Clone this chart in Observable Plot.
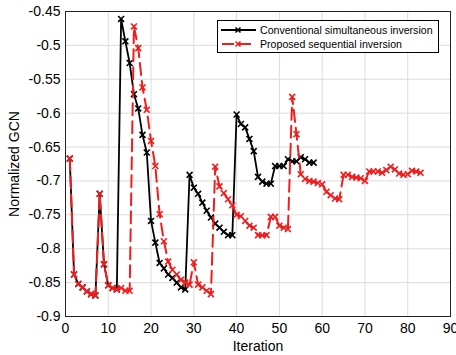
<!DOCTYPE html>
<html>
<head>
<meta charset="utf-8">
<script src="https://cdn.jsdelivr.net/npm/d3@7"></script>
<script src="https://cdn.jsdelivr.net/npm/@observablehq/plot@0.6"></script>
<style>
  body { margin: 0; background: #fff; }
  #wrap { position: relative; width: 456px; height: 355px; font-family: "Liberation Sans", Arial, sans-serif; }
  #legend { position: absolute; left: 217px; top: 20px; width: 220px; height: 31px; border: 1px solid #000; background: #fff; font-size: 10.6px; }
  .row { position: absolute; left: 0; height: 14px; display: flex; align-items: center; }
  .row svg { margin-left: 3px; }
  .row span { margin-left: 4px; white-space: nowrap; }
</style>
</head>
<body>
<div id="wrap"></div>
<script>
// ---- data ----
const seriesNames = ["Conventional simultaneous inversion", "Proposed sequential inversion"];

// Conventional simultaneous inversion, iterations 1..58
const conventionalValues = [
  -0.667, -0.838, -0.852, -0.857, -0.863, -0.867, -0.869, -0.719, -0.823, -0.854,
  -0.858, -0.860, -0.461, -0.494, -0.526, -0.572, -0.593, -0.632, -0.658, -0.759,
  -0.791, -0.821, -0.829, -0.838, -0.843, -0.850, -0.857, -0.860, -0.691, -0.710,
  -0.719, -0.732, -0.744, -0.754, -0.763, -0.769, -0.775, -0.780, -0.780, -0.602,
  -0.616, -0.621, -0.638, -0.656, -0.694, -0.701, -0.704, -0.704, -0.678, -0.678,
  -0.678, -0.668, -0.671, -0.671, -0.665, -0.668, -0.673, -0.673
];

// Proposed sequential inversion, iterations 1..83
const proposedValues = [
  -0.667, -0.838, -0.852, -0.857, -0.863, -0.867, -0.869, -0.719, -0.823, -0.854,
  -0.858, -0.860, -0.858, -0.862, -0.862, -0.472, -0.504, -0.562, -0.595, -0.641,
  -0.678, -0.749, -0.789, -0.819, -0.831, -0.838, -0.846, -0.850, -0.853, -0.820,
  -0.853, -0.857, -0.862, -0.867, -0.679, -0.708, -0.718, -0.727, -0.736, -0.750,
  -0.752, -0.759, -0.766, -0.769, -0.780, -0.780, -0.780, -0.753, -0.753, -0.766,
  -0.769, -0.771, -0.576, -0.631, -0.690, -0.697, -0.700, -0.701, -0.703, -0.705,
  -0.716, -0.721, -0.726, -0.727, -0.691, -0.691, -0.694, -0.695, -0.696, -0.700,
  -0.686, -0.686, -0.686, -0.688, -0.684, -0.679, -0.683, -0.689, -0.691, -0.690,
  -0.685, -0.686, -0.688
];

const xTicks = [0, 10, 20, 30, 40, 50, 60, 70, 80, 90];
const xTickLabels = ["0", "10", "20", "30", "40", "50", "60", "70", "80", "90"];
const yTicks = [-0.9, -0.85, -0.8, -0.75, -0.7, -0.65, -0.6, -0.55, -0.5, -0.45];
const yTickLabels = ["-0.9", "-0.85", "-0.8", "-0.75", "-0.7", "-0.65", "-0.6", "-0.55", "-0.5", "-0.45"];

// ---- build tables ----
const conv = conventionalValues.map((v, i) => ({iter: i + 1, gcn: v}));
const prop = proposedValues.map((v, i) => ({iter: i + 1, gcn: v}));

const black = "#000";
const red = "#f21c1c";
const dash = "12,6";

const chart = Plot.plot({
  width: 456,
  height: 355,
  marginLeft: 65,
  marginRight: 6,
  marginTop: 11,
  marginBottom: 39,
  style: {fontFamily: "'Liberation Sans', Arial, sans-serif", fontSize: "14px", background: "#fff", color: "#000"},
  x: {domain: [0, 90]},
  y: {domain: [-0.9, -0.45]},
  marks: [
    Plot.gridX(xTicks, {stroke: "#dcdcdc", strokeOpacity: 1, strokeWidth: 1}),
    Plot.gridY(yTicks, {stroke: "#dcdcdc", strokeOpacity: 1, strokeWidth: 1}),
    Plot.axisX(xTicks, {tickSize: 0, tickPadding: 7, tickFormat: (d, i) => xTickLabels[i], label: "Iteration", labelAnchor: "center", labelArrow: "none", labelOffset: 34, fontSize: 14}),
    Plot.axisY(yTicks, {tickSize: 0, tickPadding: 5, tickFormat: (d, i) => yTickLabels[i], label: "Normalized GCN", labelAnchor: "center", labelArrow: "none", labelOffset: 56, fontSize: 14}),
    Plot.line(conv, {x: "iter", y: "gcn", stroke: black, strokeWidth: 1.8}),
    Plot.dot(conv, {x: "iter", y: "gcn", symbol: "times", r: 2.8, stroke: black, strokeWidth: 1.6}),
    Plot.line(prop, {x: "iter", y: "gcn", stroke: red, strokeWidth: 2, strokeDasharray: dash}),
    Plot.dot(prop, {x: "iter", y: "gcn", symbol: "times", r: 2.8, stroke: red, strokeWidth: 1.6}),
    Plot.frame({stroke: "#222", strokeWidth: 1})
  ]
});

const wrap = document.getElementById("wrap");
wrap.appendChild(chart);

// legend overlay
const legend = document.createElement("div");
legend.id = "legend";
const rows = [
  {name: seriesNames[0], color: black, dash: null, top: 2},
  {name: seriesNames[1], color: red, dash: dash, top: 16}
];
for (const r of rows) {
  const row = document.createElement("div");
  row.className = "row";
  row.style.top = r.top + "px";
  row.innerHTML =
    `<svg width="35" height="14"><line x1="0" x2="35" y1="7" y2="7" stroke="${r.color}" stroke-width="${r.dash ? 2 : 1.8}" ${r.dash ? `stroke-dasharray="12,5" stroke-dashoffset="-1"` : ""}/>` +
    `<path d="M14.5,4.5L19.5,9.5M19.5,4.5L14.5,9.5" stroke="${r.color}" stroke-width="1.6" fill="none"/></svg>` +
    `<span>${r.name}</span>`;
  legend.appendChild(row);
}
wrap.appendChild(legend);
</script>
</body>
</html>
